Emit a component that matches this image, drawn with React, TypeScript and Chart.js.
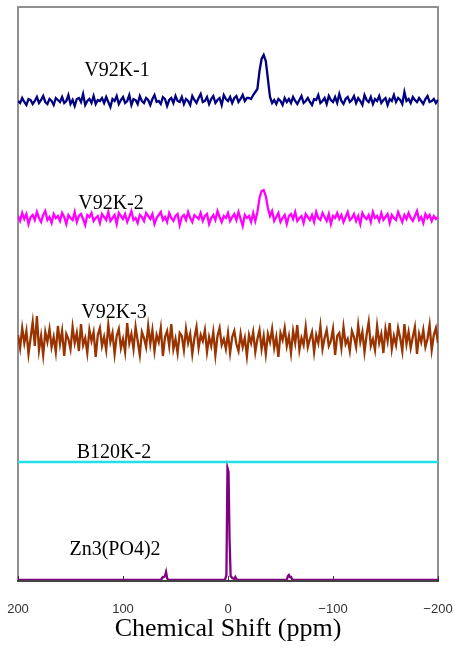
import React, { useEffect, useRef } from "react";
import { Chart, registerables } from "chart.js";

Chart.register(...registerables);

// Chemical shift grid (ppm) for the three noisy V92K spectra: 200 → -200, step 2
const ppmStart = 200;
const ppmStep = -2;

const v92k1 = [
  0,-2,3,-1,-4,2,1,-3,0,4,-2,1,5,-1,-3,2,0,-4,3,1,
  -1,4,-2,0,6,-3,1,-5,2,3,-1,7,-4,0,2,-2,5,-3,1,0,
  3,-2,4,-1,-6,2,0,5,-3,1,4,-2,0,6,-4,2,1,-3,5,0,
  -2,3,1,-4,2,6,-1,0,-3,4,2,-5,1,3,-2,5,0,-1,4,-3,
  2,0,-4,5,1,-2,3,7,-1,0,4,-3,2,5,-2,1,3,-4,6,2,
  0,4,-2,3,5,-1,2,6,0,3,3,2,6,9,12,30,42,46,40,22,
  4,-2,1,-3,2,0,-4,3,-1,2,-2,4,0,-3,1,5,-2,0,3,-1,
  -4,2,1,6,-2,0,3,-3,5,1,-1,4,-2,7,0,-3,2,4,-1,1,
  5,-2,3,0,-4,6,1,-1,4,-3,2,0,5,-2,1,3,-4,2,0,6,
  -1,3,1,-3,9,0,2,-2,4,1,-1,3,0,-3,2,5,-1,0,2,-2,
  1,
];

const v92k2 = [
  2,-3,5,-1,4,-6,1,3,-2,6,0,-4,3,7,-2,1,-5,4,0,2,
  -3,5,1,-6,3,0,-2,6,-4,2,4,-1,-7,3,1,5,-3,0,2,-5,
  4,1,-2,6,-3,0,3,-6,5,2,-1,4,-4,1,7,-2,0,-5,3,1,
  -3,5,2,-1,4,-6,0,3,6,-2,1,-4,5,0,-3,2,4,-7,1,3,
  -2,6,0,-4,3,1,-1,5,-3,2,4,-6,0,3,-2,7,1,-4,2,0,
  5,-3,1,4,-2,6,-1,-8,3,0,2,-4,5,-3,6,20,27,28,22,10,
  2,7,-3,1,5,-4,0,3,-6,2,4,-1,6,-3,0,2,-5,4,1,-2,
  3,-4,6,0,-2,5,1,-3,4,-6,2,0,5,-1,3,-4,1,6,-2,0,
  4,-3,2,-6,5,1,-1,3,-4,6,0,2,-3,5,-2,1,4,-5,3,0,
  -2,6,1,-4,3,-1,5,0,-3,2,7,-2,1,-5,4,0,3,-3,2,-1,
  1,
];

const v92k3 = [
  5,-8,12,-3,9,-14,2,18,-6,24,-10,4,-15,8,-2,11,-7,3,-12,14,
  -4,9,-16,6,1,-9,13,-3,7,-11,16,-5,2,-13,10,-1,8,-17,5,12,
  -6,3,-10,15,-2,7,-14,4,11,-8,1,-12,17,-3,6,-9,13,-1,-15,8,
  2,-7,14,-4,10,-11,5,-2,12,-16,3,9,-6,16,-9,1,-13,7,4,-10,
  11,-3,6,-14,2,13,-8,5,-1,10,-12,3,-6,8,-15,4,12,-5,1,-9,
  7,-13,3,9,-4,-11,6,-7,2,-16,5,-3,8,-12,1,10,-9,4,-14,6,
  -2,11,-8,3,-17,7,0,12,-6,4,-13,9,-3,15,-10,2,-5,13,-7,1,
  8,-12,5,-3,14,-9,2,10,-6,-1,11,-15,4,7,-8,13,-4,1,-11,9,
  3,-7,15,-2,8,-12,5,18,-6,1,-10,14,-3,6,-13,11,-1,17,-9,4,
  -5,12,2,-11,16,-4,8,-8,3,13,-14,6,-2,10,-7,1,15,-10,5,12,
  -3,
];

// B120K-2: flat trace
const b120Ppm = [200, -200];
const b120k2 = [0, 0];

// Zn3(PO4)2 reference spectrum
const znPpm = [200, 64, 62, 61, 60, 59, 58, 57, 3, 1.5, 0.5, -0.5, -1.5, -2.5, -4, -6, -7, -8, -9, -56, -57, -58, -59, -60, -61, -62, -200];
const zn3po42 = [0, 0, 3, 3, 4, 8, 2, 0, 0, 5, 112, 108, 40, 4, 2, 1, 3, 1, 0, 0, 4, 5, 3, 3, 1, 0, 0];

// Vertical stacking offsets for each trace
const offV1 = 479;
const offV2 = 362;
const offV3 = 240;
const offB120 = 118;
const offZn = 0;

const seriesNames = ["V92K-1", "V92K-2", "V92K-3", "B120K-2", "Zn3(PO4)2"];
const seriesColors = ["#000080", "#ff00ff", "#993300", "#22e0e8", "#800080"];

const xTicks = [200, 100, 0, -100, -200];
const xTitle = "Chemical Shift (ppm)";

function gridPoints(vals: number[], off: number) {
  return vals.map((v, i) => ({ x: ppmStart + ppmStep * i, y: v + off }));
}
function pairPoints(xs: number[], vals: number[], off: number) {
  return xs.map((x, i) => ({ x, y: vals[i] + off }));
}
function fmtTick(v: number) {
  return v < 0 ? "\u2212" + Math.abs(v) : String(v);
}

const framePlugin = {
  id: "frame",
  beforeDatasetsDraw(chart: any) {
    const { ctx, chartArea: a } = chart;
    ctx.save();
    ctx.strokeStyle = "#8f8f8f";
    ctx.lineWidth = 2;
    ctx.beginPath();
    ctx.moveTo(a.left, a.bottom);
    ctx.lineTo(a.left, a.top);
    ctx.lineTo(a.right, a.top);
    ctx.lineTo(a.right, a.bottom);
    ctx.stroke();
    ctx.strokeStyle = "#444";
    ctx.lineWidth = 2;
    ctx.beginPath();
    ctx.moveTo(a.left - 1, a.bottom + 1);
    ctx.lineTo(a.right + 1, a.bottom + 1);
    ctx.stroke();
    const xs = chart.scales.x;
    ctx.lineWidth = 1;
    ctx.strokeStyle = "#333";
    for (const t of xTicks) {
      const px = Math.round(xs.getPixelForValue(t)) + 0.5;
      ctx.beginPath();
      ctx.moveTo(px, a.bottom + 1);
      ctx.lineTo(px, a.bottom - 4);
      ctx.stroke();
    }
    ctx.restore();
  },
  afterDraw(chart: any) {
    const { ctx, chartArea: a } = chart;
    const xs = chart.scales.x;
    ctx.save();
    ctx.fillStyle = "#333";
    ctx.textAlign = "center";
    ctx.textBaseline = "alphabetic";
    ctx.font = "13px 'Liberation Sans', Arial, sans-serif";
    for (const t of xTicks) {
      ctx.fillText(fmtTick(t), xs.getPixelForValue(t), 613);
    }
    ctx.fillStyle = "#000";
    ctx.font = "20px 'Liberation Serif', 'Times New Roman', serif";
    const labelPos = [
      [117, 76],
      [111, 209],
      [114, 318],
      [114, 458],
      [115, 555],
    ];
    seriesNames.forEach((n, i) => {
      ctx.fillText(n, labelPos[i][0], labelPos[i][1]);
    });
    ctx.font = "26px 'Liberation Serif', 'Times New Roman', serif";
    ctx.fillText(xTitle, (a.left + a.right) / 2, 636);
    ctx.restore();
  },
};

export default function App() {
  const ref = useRef<HTMLCanvasElement>(null);
  useEffect(() => {
    if (!ref.current) return;
    const chart = new Chart(ref.current, {
      type: "line",
      data: {
        datasets: [
          { label: seriesNames[0], data: gridPoints(v92k1, offV1), borderColor: seriesColors[0] },
          { label: seriesNames[1], data: gridPoints(v92k2, offV2), borderColor: seriesColors[1] },
          { label: seriesNames[2], data: gridPoints(v92k3, offV3), borderColor: seriesColors[2] },
          { label: seriesNames[3], data: pairPoints(b120Ppm, b120k2, offB120), borderColor: seriesColors[3] },
          { label: seriesNames[4], data: pairPoints(znPpm, zn3po42, offZn), borderColor: seriesColors[4] },
        ].map((d) => ({ ...d, borderWidth: 2.3, pointRadius: 0, tension: 0, fill: false })),
      },
      options: {
        responsive: false,
        animation: false,
        devicePixelRatio: 1,
        layout: { padding: { left: 18, right: 17, top: 7, bottom: 67 }, autoPadding: false },
        plugins: { legend: { display: false }, tooltip: { enabled: false }, title: { display: false } },
        scales: {
          x: {
            type: "linear",
            reverse: true,
            min: -200,
            max: 200,
            display: false,
          },
          y: { display: false, min: 0, max: 573 },
        },
      },
      plugins: [framePlugin],
    });
    return () => chart.destroy();
  }, []);
  return (
    <div style={{ position: "absolute", left: 0, top: 0, width: 455, height: 647, background: "#fff" }}>
      <canvas ref={ref} width={455} height={647} style={{ display: "block" }} />
    </div>
  );
}
